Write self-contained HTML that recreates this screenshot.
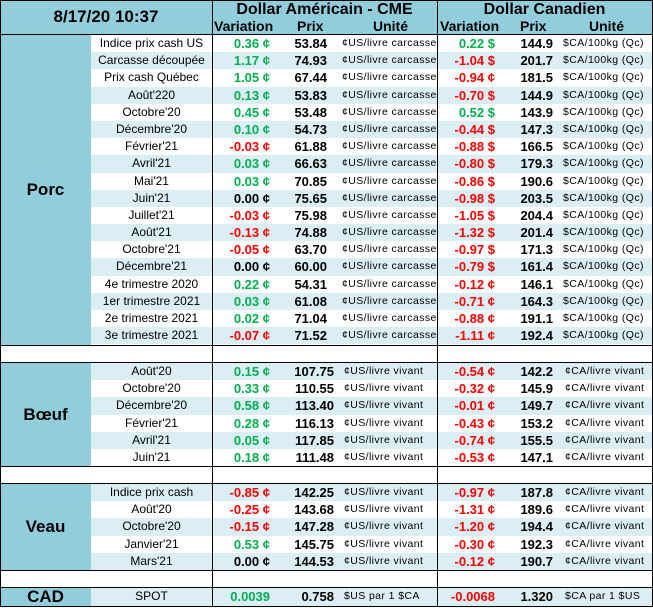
<!DOCTYPE html>
<html><head><meta charset="utf-8"><style>
*{margin:0;padding:0;box-sizing:border-box}
body{width:653px;height:608px;background:#fff;font-family:"Liberation Sans",Arial,sans-serif;position:relative;overflow:hidden;color:#000}
.abs{position:absolute}
.hdr{left:0;top:0;width:652px;height:35px;background:#92CDDC;border-bottom:1px solid #000}
.sec{position:absolute;left:0;width:652px;border-top:1px solid #000;border-bottom:1px solid #000}
.lab{position:absolute;left:0;top:0;bottom:0;width:91px;background:#92CDDC;font-weight:bold;font-size:17px;display:flex;align-items:center;justify-content:center}
.r{position:relative;height:17.2px;margin-left:91px;width:561px;font-size:12px;line-height:17px;white-space:nowrap}
.s{background:#DAEEF3}
.r span{position:absolute;top:0}
.n{left:0;width:121px;text-align:center;font-size:12px}
.v{left:121px;width:58px;text-align:right;font-weight:bold;font-size:13px}
.p{left:180px;width:56px;text-align:right;font-weight:bold;font-size:13px}
.u{left:251px;font-size:10.5px;letter-spacing:0.4px}
.v2{left:346px;width:58px;text-align:right;font-weight:bold;font-size:13px}
.p2{left:404px;width:58px;text-align:right;font-weight:bold;font-size:13px}
.u2{left:472px;font-size:10.5px;letter-spacing:0.4px}
.b .p{width:63px}.b .u{left:253px}.b .u2{left:474px}
.g{color:#00B050}.rd{color:#FF0000}
.vl{position:absolute;top:0;width:1px;background:#000}
</style></head><body>
<div class="abs hdr">
 <div class="abs" style="left:0;width:212px;top:7px;text-align:center;font-weight:bold;font-size:17px">8/17/20 10:37</div>
 <div class="abs" style="left:212px;width:225px;top:1px;text-align:center;font-weight:bold;font-size:16px">Dollar Américain - CME</div>
 <div class="abs" style="left:437px;width:215px;top:1px;text-align:center;font-weight:bold;font-size:16px">Dollar Canadien</div>
 <div class="abs" style="left:214px;top:18px;font-weight:bold;font-size:14px">Variation</div>
 <div class="abs" style="left:297px;top:18px;font-weight:bold;font-size:14px">Prix</div>
 <div class="abs" style="left:373px;top:18px;font-weight:bold;font-size:14px">Unité</div>
 <div class="abs" style="left:440px;top:18px;font-weight:bold;font-size:14px">Variation</div>
 <div class="abs" style="left:520px;top:18px;font-weight:bold;font-size:14px">Prix</div>
 <div class="abs" style="left:589px;top:18px;font-weight:bold;font-size:14px">Unité</div>
</div>

<div class="sec" style="top:34px;height:312px">
<div class="lab">Porc</div>
<div class="r"><span class="n">Indice prix cash US</span><span class="v g">0.36 ¢</span><span class="p">53.84</span><span class="u">¢US/livre carcasse</span><span class="v2 g">0.22 $</span><span class="p2">144.9</span><span class="u2">$CA/100kg (Qc)</span></div>
<div class="r s"><span class="n">Carcasse découpée</span><span class="v g">1.17 ¢</span><span class="p">74.93</span><span class="u">¢US/livre carcasse</span><span class="v2 rd">-1.04 $</span><span class="p2">201.7</span><span class="u2">$CA/100kg (Qc)</span></div>
<div class="r"><span class="n">Prix cash Québec</span><span class="v g">1.05 ¢</span><span class="p">67.44</span><span class="u">¢US/livre carcasse</span><span class="v2 rd">-0.94 ¢</span><span class="p2">181.5</span><span class="u2">$CA/100kg (Qc)</span></div>
<div class="r s"><span class="n">Août'220</span><span class="v g">0.13 ¢</span><span class="p">53.83</span><span class="u">¢US/livre carcasse</span><span class="v2 rd">-0.70 $</span><span class="p2">144.9</span><span class="u2">$CA/100kg (Qc)</span></div>
<div class="r"><span class="n">Octobre'20</span><span class="v g">0.45 ¢</span><span class="p">53.48</span><span class="u">¢US/livre carcasse</span><span class="v2 g">0.52 $</span><span class="p2">143.9</span><span class="u2">$CA/100kg (Qc)</span></div>
<div class="r s"><span class="n">Décembre'20</span><span class="v g">0.10 ¢</span><span class="p">54.73</span><span class="u">¢US/livre carcasse</span><span class="v2 rd">-0.44 $</span><span class="p2">147.3</span><span class="u2">$CA/100kg (Qc)</span></div>
<div class="r"><span class="n">Février'21</span><span class="v rd">-0.03 ¢</span><span class="p">61.88</span><span class="u">¢US/livre carcasse</span><span class="v2 rd">-0.88 $</span><span class="p2">166.5</span><span class="u2">$CA/100kg (Qc)</span></div>
<div class="r s"><span class="n">Avril'21</span><span class="v g">0.03 ¢</span><span class="p">66.63</span><span class="u">¢US/livre carcasse</span><span class="v2 rd">-0.80 $</span><span class="p2">179.3</span><span class="u2">$CA/100kg (Qc)</span></div>
<div class="r"><span class="n">Mai'21</span><span class="v g">0.03 ¢</span><span class="p">70.85</span><span class="u">¢US/livre carcasse</span><span class="v2 rd">-0.86 $</span><span class="p2">190.6</span><span class="u2">$CA/100kg (Qc)</span></div>
<div class="r s"><span class="n">Juin'21</span><span class="v">0.00 ¢</span><span class="p">75.65</span><span class="u">¢US/livre carcasse</span><span class="v2 rd">-0.98 $</span><span class="p2">203.5</span><span class="u2">$CA/100kg (Qc)</span></div>
<div class="r"><span class="n">Juillet'21</span><span class="v rd">-0.03 ¢</span><span class="p">75.98</span><span class="u">¢US/livre carcasse</span><span class="v2 rd">-1.05 $</span><span class="p2">204.4</span><span class="u2">$CA/100kg (Qc)</span></div>
<div class="r s"><span class="n">Août'21</span><span class="v rd">-0.13 ¢</span><span class="p">74.88</span><span class="u">¢US/livre carcasse</span><span class="v2 rd">-1.32 $</span><span class="p2">201.4</span><span class="u2">$CA/100kg (Qc)</span></div>
<div class="r"><span class="n">Octobre'21</span><span class="v rd">-0.05 ¢</span><span class="p">63.70</span><span class="u">¢US/livre carcasse</span><span class="v2 rd">-0.97 $</span><span class="p2">171.3</span><span class="u2">$CA/100kg (Qc)</span></div>
<div class="r s"><span class="n">Décembre'21</span><span class="v">0.00 ¢</span><span class="p">60.00</span><span class="u">¢US/livre carcasse</span><span class="v2 rd">-0.79 $</span><span class="p2">161.4</span><span class="u2">$CA/100kg (Qc)</span></div>
<div class="r"><span class="n">4e trimestre 2020</span><span class="v g">0.22 ¢</span><span class="p">54.31</span><span class="u">¢US/livre carcasse</span><span class="v2 rd">-0.12 ¢</span><span class="p2">146.1</span><span class="u2">$CA/100kg (Qc)</span></div>
<div class="r s"><span class="n">1er trimestre 2021</span><span class="v g">0.03 ¢</span><span class="p">61.08</span><span class="u">¢US/livre carcasse</span><span class="v2 rd">-0.71 ¢</span><span class="p2">164.3</span><span class="u2">$CA/100kg (Qc)</span></div>
<div class="r"><span class="n">2e trimestre 2021</span><span class="v g">0.02 ¢</span><span class="p">71.04</span><span class="u">¢US/livre carcasse</span><span class="v2 rd">-0.88 ¢</span><span class="p2">191.1</span><span class="u2">$CA/100kg (Qc)</span></div>
<div class="r s"><span class="n">3e trimestre 2021</span><span class="v rd">-0.07 ¢</span><span class="p">71.52</span><span class="u">¢US/livre carcasse</span><span class="v2 rd">-1.11 ¢</span><span class="p2">192.4</span><span class="u2">$CA/100kg (Qc)</span></div>
</div>

<div class="sec b" style="top:362px;height:105px">
<div class="lab">Bœuf</div>
<div class="r s"><span class="n">Août'20</span><span class="v g">0.15 ¢</span><span class="p">107.75</span><span class="u">¢US/livre vivant</span><span class="v2 rd">-0.54 ¢</span><span class="p2">142.2</span><span class="u2">¢CA/livre vivant</span></div>
<div class="r"><span class="n">Octobre'20</span><span class="v g">0.33 ¢</span><span class="p">110.55</span><span class="u">¢US/livre vivant</span><span class="v2 rd">-0.32 ¢</span><span class="p2">145.9</span><span class="u2">¢CA/livre vivant</span></div>
<div class="r s"><span class="n">Décembre'20</span><span class="v g">0.58 ¢</span><span class="p">113.40</span><span class="u">¢US/livre vivant</span><span class="v2 rd">-0.01 ¢</span><span class="p2">149.7</span><span class="u2">¢CA/livre vivant</span></div>
<div class="r"><span class="n">Février'21</span><span class="v g">0.28 ¢</span><span class="p">116.13</span><span class="u">¢US/livre vivant</span><span class="v2 rd">-0.43 ¢</span><span class="p2">153.2</span><span class="u2">¢CA/livre vivant</span></div>
<div class="r s"><span class="n">Avril'21</span><span class="v g">0.05 ¢</span><span class="p">117.85</span><span class="u">¢US/livre vivant</span><span class="v2 rd">-0.74 ¢</span><span class="p2">155.5</span><span class="u2">¢CA/livre vivant</span></div>
<div class="r"><span class="n">Juin'21</span><span class="v g">0.18 ¢</span><span class="p">111.48</span><span class="u">¢US/livre vivant</span><span class="v2 rd">-0.53 ¢</span><span class="p2">147.1</span><span class="u2">¢CA/livre vivant</span></div>
</div>

<div class="sec b" style="top:483px;height:88px">
<div class="lab">Veau</div>
<div class="r s"><span class="n">Indice prix cash</span><span class="v rd">-0.85 ¢</span><span class="p">142.25</span><span class="u">¢US/livre vivant</span><span class="v2 rd">-0.97 ¢</span><span class="p2">187.8</span><span class="u2">¢CA/livre vivant</span></div>
<div class="r"><span class="n">Août'20</span><span class="v rd">-0.25 ¢</span><span class="p">143.68</span><span class="u">¢US/livre vivant</span><span class="v2 rd">-1.31 ¢</span><span class="p2">189.6</span><span class="u2">¢CA/livre vivant</span></div>
<div class="r s"><span class="n">Octobre'20</span><span class="v rd">-0.15 ¢</span><span class="p">147.28</span><span class="u">¢US/livre vivant</span><span class="v2 rd">-1.20 ¢</span><span class="p2">194.4</span><span class="u2">¢CA/livre vivant</span></div>
<div class="r"><span class="n">Janvier'21</span><span class="v g">0.53 ¢</span><span class="p">145.75</span><span class="u">¢US/livre vivant</span><span class="v2 rd">-0.30 ¢</span><span class="p2">192.3</span><span class="u2">¢CA/livre vivant</span></div>
<div class="r s"><span class="n">Mars'21</span><span class="v">0.00 ¢</span><span class="p">144.53</span><span class="u">¢US/livre vivant</span><span class="v2 rd">-0.12 ¢</span><span class="p2">190.7</span><span class="u2">¢CA/livre vivant</span></div>
</div>

<div class="sec b" style="top:587px;height:20px">
<div class="lab">CAD</div>
<div class="r s" style="height:19px"><span class="n">SPOT</span><span class="v g">0.0039</span><span class="p">0.758</span><span class="u">$US par 1 $CA</span><span class="v2 rd">-0.0068</span><span class="p2">1.320</span><span class="u2">$CA par 1 $US</span></div>
</div>

<div class="vl" style="left:212px;height:607px"></div>
<div class="vl" style="left:437px;height:607px"></div>
<div class="abs" style="left:0;top:0;width:653px;height:607px;border:1px solid #000"></div>
</body></html>
